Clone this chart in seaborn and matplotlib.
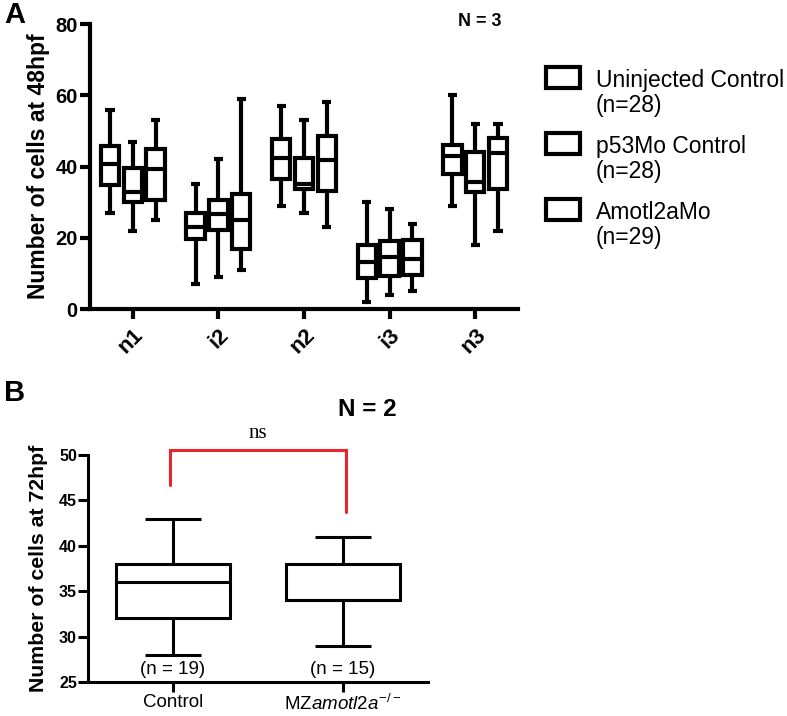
import numpy as np
import pandas as pd
import matplotlib
matplotlib.use("Agg")
import matplotlib.pyplot as plt
from matplotlib.patches import Rectangle
import seaborn as sns

# ---------------- data: panel A (five-number summaries: min, q1, median, q3, max)
regions = ["n1", "i2", "n2", "i3", "n3"]
treatments = ["Uninjected Control", "p53Mo Control", "Amotl2aMo"]
treatment_n = ["(n=28)", "(n=28)", "(n=29)"]

uninjected = [
    [27, 34.7, 40.8, 45.7, 56],   # n1
    [7, 19.7, 23, 27, 35],        # i2
    [29, 36.6, 42.4, 47.7, 57],   # n2
    [2, 8.6, 13.3, 18, 30],       # i3
    [29, 37.8, 42.9, 46, 60],     # n3
]
p53mo = [
    [22, 29.9, 32.9, 39.7, 47],
    [9, 22.1, 26.8, 30.7, 42],
    [27, 33.8, 35.2, 42.3, 53],
    [4, 9.4, 14.6, 19.1, 28],
    [18, 32.9, 35.7, 44.1, 52],
]
amotl2amo = [
    [25, 30.7, 39.2, 44.9, 53],
    [11, 16.8, 24.9, 32.4, 59],
    [23, 33.0, 41.8, 48.5, 58],
    [5, 9.6, 14.1, 19.5, 24],
    [22, 33.6, 43.7, 48.1, 52],
]

# ---------------- data: panel B
groups_b = ["Control", r"MZ$\mathit{amotl2a}^{-/-}$"]
control_b = [28, 32, 36, 38, 43]
mz_b = [29, 34, 34, 38, 41]
n_b = ["(n = 19)", "(n = 15)"]

# ---------------- build long-form tables
rows = []
for tname, series in zip(treatments, [uninjected, p53mo, amotl2amo]):
    for reg, summ in zip(regions, series):
        for v in summ:
            rows.append({"region": reg, "treatment": tname, "value": v})
df_a = pd.DataFrame(rows)

rows_b = []
for g, summ in zip(groups_b, [control_b, mz_b]):
    for v in summ:
        rows_b.append({"group": g, "value": v})
df_b = pd.DataFrame(rows_b)

# ---------------- style
sns.set_style("ticks")
plt.rcParams["font.family"] = ["Liberation Sans", "DejaVu Sans"]
plt.rcParams["mathtext.fontset"] = "custom"
plt.rcParams["mathtext.rm"] = "Liberation Sans"
plt.rcParams["mathtext.it"] = "Liberation Sans:italic"
plt.rcParams["mathtext.bf"] = "Liberation Sans:bold"
for k in ["text.color", "axes.labelcolor", "xtick.color", "ytick.color", "axes.edgecolor"]:
    plt.rcParams[k] = "black"

W, H = 787, 716
fig = plt.figure(figsize=(W / 100, H / 100), dpi=100)

def fx(px):
    return px / W

def fy(py):
    return 1 - py / H

# ---------------- panel A
axA = fig.add_axes([fx(90), fy(309), fx(518) - fx(90), fy(24) - fy(309)])
lwA = 3.0
sns.boxplot(
    data=df_a, x="region", y="value", hue="treatment",
    order=regions, hue_order=treatments,
    whis=(0, 100), width=0.8, gap=0.2, dodge=True,
    palette=["white"] * 3, linecolor="black", linewidth=lwA,
    showfliers=False, legend=False, ax=axA,
)
axA.set_ylim(0, 80)
axA.set_xlim(-0.5, 4.5)
axA.set_yticks([0, 20, 40, 60, 80])
axA.set_xlabel("")
axA.set_ylabel("Number of cells at 48hpf", fontsize=16.5, fontweight="bold", labelpad=4)
sns.despine(ax=axA)
for sp in ["left", "bottom"]:
    axA.spines[sp].set_linewidth(lwA)
    axA.spines[sp].set_capstyle("projecting")
axA.tick_params(axis="y", width=lwA, length=7, labelsize=14.5, pad=2)
axA.tick_params(axis="x", width=lwA, length=7, labelsize=16, pad=4)
for lbl in axA.get_yticklabels():
    lbl.set_fontweight("bold")
for lbl in axA.get_xticklabels():
    lbl.set_fontweight("bold")
    lbl.set_rotation(45)
    lbl.set_ha("right")
    lbl.set_rotation_mode("anchor")
for line in axA.lines:
    line.set_solid_capstyle("butt")

# legend (drawn manually so the markers align with the first text line)
for i, (t, n) in enumerate(zip(treatments, treatment_n)):
    top = 67 + i * 66
    fig.add_artist(Rectangle((fx(546), fy(top + 21)), fx(580) - fx(546), fy(top) - fy(top + 21),
                             transform=fig.transFigure, facecolor="white",
                             edgecolor="black", linewidth=3))
    fig.text(fx(596), fy(top + 20), t, fontsize=16.5, ha="left", va="baseline")
    fig.text(fx(596), fy(top + 45), n, fontsize=16.5, ha="left", va="baseline")

fig.text(fx(480), fy(22), "N = 3", fontsize=13, fontweight="bold", ha="center", va="center")
fig.text(fx(4), fy(15), "A", fontsize=21, fontweight="bold", ha="left", va="center")

# ---------------- panel B
axB = fig.add_axes([fx(88), fy(682), fx(428) - fx(88), fy(455) - fy(682)])
lwB = 2.2
sns.boxplot(
    data=df_b, x="group", y="value", order=groups_b,
    whis=(0, 100), width=0.67, color="white", linecolor="black",
    linewidth=lwB, showfliers=False, ax=axB,
)
axB.set_ylim(25, 50)
axB.set_xlim(-0.5, 1.5)
axB.set_yticks([25, 30, 35, 40, 45, 50])
axB.set_xlabel("")
axB.set_ylabel("Number of cells at 72hpf", fontsize=15.3, fontweight="bold", labelpad=8)
sns.despine(ax=axB)
for sp in ["left", "bottom"]:
    axB.spines[sp].set_linewidth(lwB)
axB.tick_params(axis="y", width=lwB, length=7, labelsize=11.5, pad=1)
axB.tick_params(axis="x", width=lwB, length=7, labelsize=13.5, pad=1.5)
for lbl in axB.get_yticklabels():
    lbl.set_fontweight("bold")
for line in axB.lines:
    line.set_solid_capstyle("butt")

for i, t in enumerate(n_b):
    axB.text(i, 26.4, t, fontsize=13.5, ha="center", va="center")

# significance bracket
bx = [-0.02, -0.02, 1.02, 1.02]
by = [46.7, 50.5, 50.5, 43.7]
axB.plot(bx, by, color="#e8252b", linewidth=2.2, clip_on=False, solid_joinstyle="miter")
axB.text(0.5, 52.4, "ns", fontsize=15, family="Liberation Serif", ha="center", va="center")

fig.text(fx(367), fy(409), "N = 2", fontsize=17.5, fontweight="bold", ha="center", va="center")
fig.text(fx(4), fy(393), "B", fontsize=21, fontweight="bold", ha="left", va="center")

fig.savefig("out.png", dpi=100)
